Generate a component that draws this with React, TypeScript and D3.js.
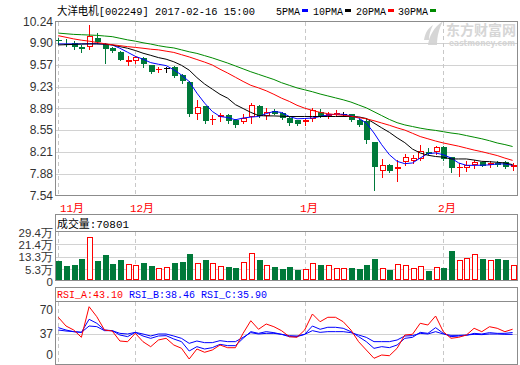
import React from 'react';
import * as d3 from 'd3';

// ---------- data ----------
const monthLabels = ['11月', '12月', '1月', '2月'];
const monthStartIdx = [0, 10, 32, 50];

const priceTicks = [10.24, 9.9, 9.57, 9.23, 8.89, 8.55, 8.21, 7.88, 7.54];
const priceTickLabels = ['10.24', '9.90', '9.57', '9.23', '8.89', '8.55', '8.21', '7.88', '7.54'];
const volTicks = [29.4, 21.4, 13.3, 5.3];
const volTickLabels = ['29.4万', '21.4万', '13.3万', '5.3万'];
const rsiTicks = [70, 37, 0];

const open = [9.95, 9.89, 9.90, 9.85, 9.84, 9.99, 9.89, 9.83, 9.76, 9.61,
  9.63, 9.67, 9.57, 9.48, 9.525, 9.54, 9.41, 9.30, 8.81, 8.93,
  8.72, 8.76, 8.79, 8.705, 8.673, 8.757, 8.93, 8.78, 8.855, 8.82,
  8.75, 8.705, 8.673, 8.73, 8.835, 8.78, 8.81, 8.80, 8.80, 8.715,
  8.69, 8.37, 7.915, 8.02, 7.95, 8.055, 8.076, 8.107, 8.22, 8.21,
  8.30, 8.14, 7.97, 7.97, 8.02, 8.06, 8.02, 8.04, 8.055, 7.98];
const high = [9.98, 9.97, 9.93, 9.87, 10.19, 10.06, 9.90, 9.85, 9.78, 9.70,
  9.71, 9.69, 9.57, 9.54, 9.53, 9.55, 9.42, 9.31, 9.025, 8.93,
  8.79, 8.82, 8.80, 8.72, 8.80, 8.97, 8.94, 8.89, 8.88, 8.83,
  8.76, 8.71, 8.74, 8.90, 8.88, 8.84, 8.86, 8.835, 8.80, 8.72,
  8.74, 8.37, 8.11, 8.035, 8.096, 8.19, 8.17, 8.33, 8.28, 8.31,
  8.31, 8.14, 8.045, 8.07, 8.09, 8.06, 8.07, 8.07, 8.07, 8.04];
const low = [9.89, 9.86, 9.81, 9.76, 9.81, 9.91, 9.60, 9.76, 9.64, 9.57,
  9.60, 9.53, 9.44, 9.45, 9.45, 9.38, 9.28, 8.77, 8.73, 8.67,
  8.65, 8.70, 8.67, 8.61, 8.66, 8.67, 8.76, 8.72, 8.80, 8.72,
  8.64, 8.64, 8.64, 8.69, 8.76, 8.75, 8.77, 8.766, 8.70, 8.62,
  8.36, 7.62, 7.82, 7.90, 7.76, 8.02, 8.04, 8.09, 8.18, 8.19,
  8.09, 7.90, 7.84, 7.92, 7.97, 7.995, 7.99, 8.00, 7.97, 7.94];
const close = [9.94, 9.87, 9.85, 9.82, 10.02, 9.92, 9.81, 9.79, 9.65, 9.64,
  9.685, 9.58, 9.46, 9.51, 9.525, 9.40, 9.31, 8.81, 8.91, 8.70,
  8.73, 8.79, 8.69, 8.64, 8.735, 8.937, 8.77, 8.84, 8.81, 8.74,
  8.66, 8.65, 8.71, 8.86, 8.77, 8.81, 8.815, 8.80, 8.715, 8.627,
  8.405, 7.98, 8.017, 7.915, 7.99, 8.13, 8.116, 8.225, 8.19, 8.30,
  8.107, 7.97, 7.985, 8.01, 8.055, 8.00, 8.04, 8.015, 7.99, 8.017];

// volume in 万
const volume = [10.8, 7.7, 8.1, 12.1, 26.3, 10.8, 14.7, 8.8, 11.2, 8.6,
  8.1, 9.3, 7.7, 6.0, 6.6, 9.3, 9.9, 15.1, 9.3, 11.4,
  9.3, 7.3, 6.8, 6.0, 9.7, 15.5, 11.4, 8.1, 6.8, 5.5,
  6.8, 4.9, 5.3, 9.3, 8.1, 7.9, 6.0, 6.0, 6.2, 5.5,
  8.1, 12.1, 6.0, 4.9, 8.6, 7.9, 6.0, 7.3, 4.2, 6.6,
  6.2, 17.3, 11.2, 12.5, 15.1, 12.1, 11.2, 12.1, 11.4, 8.1];

const ma5 = [9.892, 9.892, 9.892, 9.892, 9.895, 9.895, 9.89, 9.876, 9.825, 9.763,
  9.70, 9.655, 9.602, 9.577, 9.556, 9.49, 9.41, 9.308, 9.129, 8.974,
  8.844, 8.766, 8.75, 8.715, 8.742, 8.757, 8.766, 8.81, 8.844, 8.828,
  8.766, 8.73, 8.735, 8.742, 8.766, 8.79, 8.80, 8.80, 8.777, 8.742,
  8.664, 8.51, 8.328, 8.173, 8.07, 8.034, 8.045, 8.122, 8.19, 8.20,
  8.173, 8.122, 8.045, 8.008, 8.008, 8.01, 8.015, 8.03, 8.03, 8.008];
const ma10 = [9.876, 9.88, 9.885, 9.89, 9.892, 9.892, 9.89, 9.876, 9.85, 9.825,
  9.79, 9.748, 9.715, 9.68, 9.655, 9.615, 9.56, 9.485, 9.37, 9.27,
  9.19, 9.11, 9.05, 8.95, 8.89, 8.83, 8.78, 8.775, 8.775, 8.77,
  8.766, 8.766, 8.766, 8.766, 8.766, 8.766, 8.766, 8.766, 8.766, 8.76,
  8.735, 8.664, 8.59, 8.52, 8.435, 8.36, 8.26, 8.20, 8.165, 8.145,
  8.135, 8.107, 8.107, 8.107, 8.09, 8.07, 8.065, 8.055, 8.045, 8.019];
const ma20 = [10.02, 9.995, 9.97, 9.95, 9.935, 9.915, 9.895, 9.88, 9.865, 9.85,
  9.838, 9.825, 9.81, 9.80, 9.78, 9.76, 9.725, 9.69, 9.65, 9.61,
  9.565, 9.50, 9.44, 9.375, 9.31, 9.25, 9.21, 9.165, 9.11, 9.05,
  9.00, 8.94, 8.895, 8.86, 8.83, 8.81, 8.795, 8.785, 8.77, 8.75,
  8.73, 8.70, 8.665, 8.63, 8.59, 8.555, 8.505, 8.455, 8.42, 8.385,
  8.355, 8.33, 8.305, 8.275, 8.245, 8.22, 8.19, 8.16, 8.12, 8.085];
const ma30 = [10.06, 10.05, 10.04, 10.035, 10.03, 10.025, 10.015, 10.005, 9.98, 9.955,
  9.935, 9.91, 9.89, 9.865, 9.845, 9.83, 9.80, 9.77, 9.745, 9.71,
  9.675, 9.635, 9.595, 9.55, 9.505, 9.46, 9.42, 9.38, 9.34, 9.29,
  9.25, 9.21, 9.18, 9.15, 9.115, 9.085, 9.055, 9.025, 8.99, 8.945,
  8.90, 8.84, 8.78, 8.72, 8.67, 8.635, 8.61, 8.585, 8.565, 8.55,
  8.53, 8.51, 8.495, 8.47, 8.445, 8.42, 8.39, 8.355, 8.33, 8.30];

const rsiA = [59.8, 47.6, 42.0, 31.8, 74.6, 60.6, 42.0, 40.6, 26.6, 25.6,
  37.4, 25.6, 18.6, 28.0, 30.4, 21.0, 16.4, 1.4, 15.4, 10.8,
  14.0, 21.0, 17.2, 17.2, 37.4, 55.0, 43.0, 50.4, 46.6, 41.0,
  32.6, 31.8, 42.0, 64.4, 53.6, 59.8, 59.8, 53.6, 42.0, 25.6,
  14.0, 2.4, 7.0, 6.0, 16.4, 35.0, 36.0, 51.4, 49.0, 61.6,
  39.6, 30.4, 31.8, 35.0, 44.4, 39.6, 46.6, 44.4, 39.6, 43.1];
const rsiB = [45.3, 42.0, 39.7, 38.7, 57.0, 51.4, 42.0, 41.1, 35.0, 32.7,
  38.7, 33.6, 30.3, 33.6, 34.1, 29.4, 25.7, 12.6, 18.7, 15.4,
  17.3, 21.9, 20.1, 20.1, 30.3, 39.7, 37.3, 39.7, 38.3, 35.9,
  32.7, 32.7, 35.9, 47.6, 43.0, 45.8, 45.8, 44.4, 39.7, 32.7,
  25.7, 16.3, 18.7, 17.3, 21.0, 30.3, 31.7, 38.7, 37.3, 45.3,
  37.3, 32.7, 33.6, 34.5, 37.3, 36.4, 38.3, 37.3, 37.3, 38.46];
const rsiC = [42.0, 40.6, 39.7, 38.7, 47.6, 46.7, 41.1, 41.1, 37.3, 36.4,
  38.7, 36.4, 33.6, 36.4, 36.4, 33.6, 30.3, 23.3, 26.6, 24.3,
  24.3, 27.1, 25.7, 25.7, 31.7, 38.3, 36.4, 37.3, 37.3, 35.9,
  34.1, 33.6, 35.9, 41.1, 38.7, 39.7, 39.7, 39.7, 38.3, 35.0,
  31.7, 25.7, 25.7, 25.7, 28.0, 33.6, 34.1, 37.3, 36.4, 39.7,
  36.4, 34.5, 34.5, 35.0, 35.9, 35.5, 36.4, 36.4, 35.9, 35.9];

const titleText = '大洋电机[002249] 2017-02-16 15:00';
const volTitle = '成交量:70801';
const rsiTitles = ['RSI_A:43.10', 'RSI_B:38.46', 'RSI_C:35.90'];
const maLegend = ['5PMA', '10PMA', '20PMA', '30PMA'];

// ---------- styles ----------
const RED = '#ff0000';
const GREEN = '#00793a';
const BLUE = '#0000ff';
const MA_COLORS = [BLUE, '#000000', RED, '#008a00'];
const BORDER = '#8c8c8c';
const GRID = '#d2d2d2';
const MONO = "'Liberation Mono','Noto Sans CJK SC',monospace";
const AXISF = "'Liberation Sans',Arial,sans-serif";

const L = 55.5, R = 517.5;
const mainTop = 21.5, mainBot = 195.5;
const volBoxTop = 214.5, volTop = 231.5, volBot = 280.5;
const rsiBoxTop = 287.5, rsiTop = 301.5, rsiBot = 364.5;

const x = d3.scaleLinear().domain([0, 59]).range([58.3, 512.6]);
const yP = d3.scaleLinear().domain([7.54, 10.24]).range([mainBot, mainTop]);
const yV = d3.scaleLinear().domain([-2, 29.4]).range([volBot, 232]);
const yR = d3.scaleLinear().domain([0, 70]).range([360, 310]);

function tw(s: string) {
  let w = 0;
  for (const ch of s) w += ch.charCodeAt(0) > 255 ? 12 : 6;
  return w;
}

function MText({ x, y, fill, s }: { x: number; y: number; fill: string; s: string }) {
  return (
    <text x={x} y={y} fill={fill} fontSize={11.5} fontFamily={MONO}
      textLength={tw(s)} lengthAdjust="spacingAndGlyphs">{s}</text>
  );
}

const px = (i: number) => Math.round(x(i));

export default function App() {
  const mas = [ma5, ma10, ma20, ma30];
  const lineP = d3.line<number>().x((_, i) => x(i)).y((d) => yP(d));
  const lineR = d3.line<number>().x((_, i) => x(i)).y((d) => yR(d));

  const candles = open.map((o, i) => {
    const c = close[i];
    const p = px(i);
    const cx = p + 0.5;
    const yH = Math.round(yP(high[i]));
    const yL = Math.round(yP(low[i]));
    const yTop = Math.round(yP(Math.max(o, c)));
    const yBot = Math.round(yP(Math.min(o, c)));
    if (c === o) {
      const yy = Math.round(yP(o)) + 0.5;
      return (
        <g key={i} stroke="#000">
          <line x1={cx} x2={cx} y1={yH} y2={yL + 1} />
          <line x1={p - 2} x2={p + 4} y1={yy} y2={yy} />
        </g>
      );
    }
    if (c < o) {
      return (
        <g key={i}>
          <line x1={cx} x2={cx} y1={yH} y2={yL + 1} stroke={GREEN} />
          <rect x={p - 2} y={yTop} width={6} height={Math.max(1, yBot - yTop)} fill={GREEN} />
        </g>
      );
    }
    const h = yBot - yTop;
    return (
      <g key={i} stroke={RED}>
        <line x1={cx} x2={cx} y1={yH} y2={yTop} />
        <line x1={cx} x2={cx} y1={yBot} y2={yL + 1} />
        {h >= 2 ? (
          <rect x={p - 1.5} y={yTop + 0.5} width={5} height={h - 1} fill="#fff" />
        ) : (
          <line x1={p - 2} x2={p + 4} y1={yTop + 0.5} y2={yTop + 0.5} />
        )}
      </g>
    );
  });

  const volBars = volume.map((v, i) => {
    const p = px(i);
    const top = Math.round(yV(v));
    const bottom = 280;
    if (close[i] >= open[i]) {
      return <rect key={i} x={p - 1.5} y={top + 0.5} width={5} height={bottom - top - 1}
        fill="#fff" stroke={RED} />;
    }
    return <rect key={i} x={p - 2} y={top} width={6} height={bottom - top} fill={GREEN} />;
  });

  const monthX = monthStartIdx.map((idx) => px(idx) + 0.5);

  const dashed = (y1: number, y2: number) =>
    monthX.map((mx, k) => (
      <line key={k} x1={mx} x2={mx} y1={y1} y2={y2} stroke="#c8c8c8" strokeDasharray="4,3" />
    ));

  return (
    <svg width={520} height={365} style={{ position: 'absolute', left: 0, top: 0, background: '#fff' }}>
      <rect x={0} y={0} width={520} height={365} fill="#fff" />

      {/* watermark */}
      <g fill="#d6d6d6">
        <path d="M428,45 C429,36 434,27 443,21 C439,29 437,36 437,45 Z" />
        <path d="M424,40 C425,33 428,28 433,25 C430,31 429,35 429,40 Z" />
        <text x={446} y={35} fontSize={14} fontWeight="bold" fontFamily="'Noto Sans CJK SC',sans-serif"
          textLength={70} lengthAdjust="spacingAndGlyphs">东方财富网</text>
        <text x={449} y={46} fontSize={8} fontWeight="bold" fontFamily="'DejaVu Sans',sans-serif"
          textLength={66} lengthAdjust="spacingAndGlyphs">eastmoney.com</text>
      </g>

      {/* header */}
      <MText x={57} y={15} fill="#000" s={titleText} />
      {maLegend.map((s, k) => {
        const xs = [276, 313, 356, 398][k];
        return (
          <g key={k}>
            <MText x={xs} y={15} fill="#000" s={s} />
            <rect x={xs + tw(s) + 2} y={9} width={6} height={3} fill={MA_COLORS[k]} />
          </g>
        );
      })}

      {/* main panel */}
      <g shapeRendering="crispEdges">
        {priceTicks.slice(1, -1).map((t, k) => {
          const yy = Math.round(yP(t)) + 0.5;
          return <line key={k} x1={L} x2={R} y1={yy} y2={yy} stroke={GRID} />;
        })}
        {dashed(mainTop, mainBot)}
        <rect x={L} y={mainTop} width={R - L} height={mainBot - mainTop} fill="none" stroke={BORDER} />
      </g>
      <g fontFamily={AXISF} fontSize={12} fill="#333" textAnchor="end">
        {priceTicks.map((t, k) => (
          <text key={k} x={53} y={yP(t)} dominantBaseline="central">{priceTickLabels[k]}</text>
        ))}
      </g>
      <g shapeRendering="crispEdges">{candles}</g>
      <g fill="none" strokeWidth={1}>
        {mas.map((m, k) => (
          <path key={k} d={lineP(m) || ''} stroke={MA_COLORS[k]} />
        ))}
      </g>

      {/* month labels */}
      {monthLabels.map((s, k) => (
        <MText key={k} x={Math.max(monthX[k] - 5.5, 60)} y={212} fill={RED} s={s} />
      ))}

      {/* volume panel */}
      <g shapeRendering="crispEdges">
        {volTicks.slice(1).map((t, k) => {
          const yy = Math.round(yV(t)) + 0.5;
          return <line key={k} x1={L} x2={R} y1={yy} y2={yy} stroke={GRID} />;
        })}
        {dashed(volTop, volBot)}
        <rect x={L} y={volBoxTop} width={R - L} height={volBot - volBoxTop} fill="none" stroke={BORDER} />
        <line x1={L} x2={R} y1={volTop} y2={volTop} stroke={BORDER} />
        {volBars}
      </g>
      <MText x={57} y={228} fill="#000" s={volTitle} />
      <g fontFamily={AXISF} fontSize={11.5} fill="#333" textAnchor="end">
        {volTicks.map((t, k) => (
          <text key={k} x={53} y={yV(t) + 0.5} dominantBaseline="central">{volTickLabels[k]}</text>
        ))}
        <text x={53} y={volBot + 1} dominantBaseline="central">0</text>
      </g>

      {/* RSI panel */}
      <g shapeRendering="crispEdges">
        <line x1={L} x2={R} y1={Math.round(yR(37)) + 0.5} y2={Math.round(yR(37)) + 0.5} stroke={GRID} />
        {dashed(rsiTop, rsiBot)}
        <rect x={L} y={rsiBoxTop} width={R - L} height={rsiBot - rsiBoxTop} fill="none" stroke={BORDER} />
        <line x1={L} x2={R} y1={rsiTop} y2={rsiTop} stroke={BORDER} />
      </g>
      {rsiTitles.map((s, k) => (
        <MText key={k} x={57 + k * 72} y={298} fill={k === 0 ? RED : BLUE} s={s} />
      ))}
      <g fontFamily={AXISF} fontSize={12} fill="#333" textAnchor="end">
        {rsiTicks.map((t, k) => (
          <text key={k} x={53} y={Math.min(yR(t), 355)} dominantBaseline="central">{t}</text>
        ))}
      </g>
      <g fill="none" strokeWidth={1}>
        <path d={lineR(rsiC) || ''} stroke={BLUE} />
        <path d={lineR(rsiB) || ''} stroke={BLUE} />
        <path d={lineR(rsiA) || ''} stroke={RED} />
      </g>
    </svg>
  );
}
